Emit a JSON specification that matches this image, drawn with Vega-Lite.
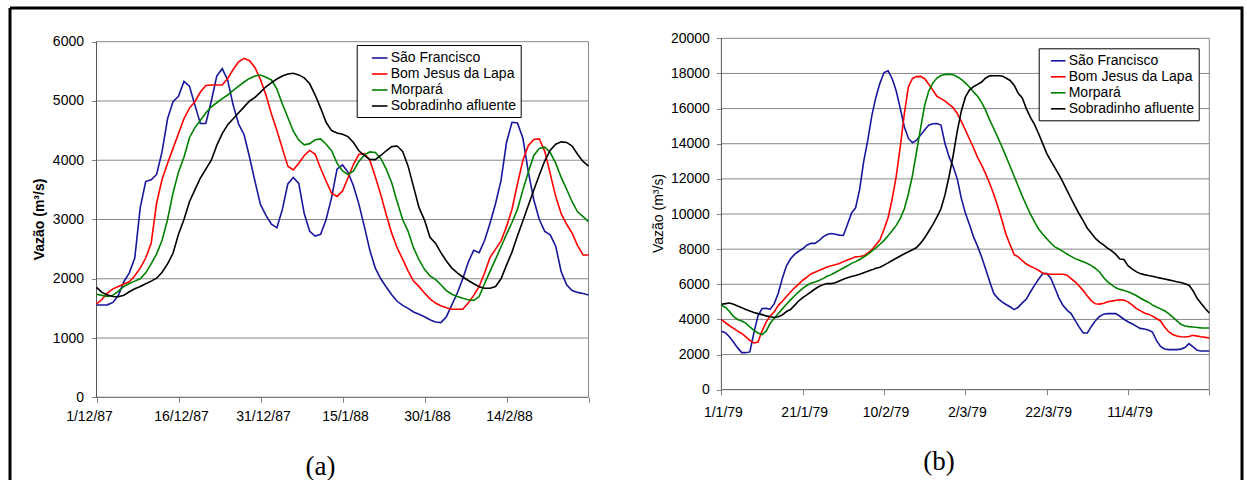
{
"$schema": "https://vega.github.io/schema/vega-lite/v6.json",
"width": 1232, "height": 472,
"autosize": {"type": "none"},
"padding": {"left": 10, "top": 8, "right": 5, "bottom": 0},
"background": "white",
"config": {
  "view": {"stroke": "black", "strokeWidth": 3, "strokeDash": [1704, 1232, 472, 0]},
  "font": "Liberation Sans",
  "axis": {"labelFont": "Liberation Sans", "labelColor": "black", "tickColor": "#808080", "domain": false, "grid": false, "labelFontSize": 14, "tickSize": 5, "titleColor": "black"},
  "legend": {"labelFont": "Liberation Sans", "labelFontSize": 14, "labelColor": "black", "strokeColor": "black", "fillColor": "white", "title": null, "symbolType": "stroke", "symbolStrokeWidth": 1.6, "labelOffset": 2, "rowPadding": 0}
},
"resolve": {"scale": {"x": "independent", "y": "independent", "color": "independent"}, "axis": {"x": "independent", "y": "independent"}, "legend": {"color": "independent"}},
"layer": [
{
 "data": {"values": [
{"t":"1987-12-01","sf":1558,"bj":1575,"mo":1738,"so":1856},
{"t":"1987-12-02","sf":1558,"bj":1650,"mo":1720,"so":1770},
{"t":"1987-12-03","sf":1560,"bj":1760,"mo":1700,"so":1725},
{"t":"1987-12-04","sf":1600,"bj":1830,"mo":1720,"so":1700},
{"t":"1987-12-05","sf":1720,"bj":1870,"mo":1790,"so":1697},
{"t":"1987-12-06","sf":1950,"bj":1910,"mo":1870,"so":1720},
{"t":"1987-12-07","sf":2100,"bj":1950,"mo":1920,"so":1780},
{"t":"1987-12-08","sf":2350,"bj":2050,"mo":1960,"so":1830},
{"t":"1987-12-09","sf":3200,"bj":2180,"mo":2000,"so":1870},
{"t":"1987-12-10","sf":3640,"bj":2350,"mo":2100,"so":1915},
{"t":"1987-12-11","sf":3670,"bj":2600,"mo":2250,"so":1960},
{"t":"1987-12-12","sf":3760,"bj":3280,"mo":2420,"so":2010},
{"t":"1987-12-13","sf":4150,"bj":3680,"mo":2650,"so":2110},
{"t":"1987-12-14","sf":4700,"bj":3950,"mo":3000,"so":2250},
{"t":"1987-12-15","sf":4990,"bj":4200,"mo":3450,"so":2430},
{"t":"1987-12-16","sf":5080,"bj":4450,"mo":3800,"so":2750},
{"t":"1987-12-17","sf":5330,"bj":4700,"mo":4050,"so":3000},
{"t":"1987-12-18","sf":5250,"bj":4880,"mo":4380,"so":3300},
{"t":"1987-12-19","sf":4930,"bj":4988,"mo":4550,"so":3500},
{"t":"1987-12-20","sf":4620,"bj":5150,"mo":4670,"so":3700},
{"t":"1987-12-21","sf":4620,"bj":5260,"mo":4800,"so":3850},
{"t":"1987-12-22","sf":5000,"bj":5270,"mo":4900,"so":4000},
{"t":"1987-12-23","sf":5420,"bj":5270,"mo":4970,"so":4250},
{"t":"1987-12-24","sf":5545,"bj":5270,"mo":5040,"so":4450},
{"t":"1987-12-25","sf":5350,"bj":5380,"mo":5100,"so":4600},
{"t":"1987-12-26","sf":4930,"bj":5530,"mo":5180,"so":4700},
{"t":"1987-12-27","sf":4610,"bj":5660,"mo":5250,"so":4800},
{"t":"1987-12-28","sf":4430,"bj":5720,"mo":5320,"so":4900},
{"t":"1987-12-29","sf":4050,"bj":5680,"mo":5380,"so":5000},
{"t":"1987-12-30","sf":3640,"bj":5560,"mo":5420,"so":5060},
{"t":"1987-12-31","sf":3250,"bj":5360,"mo":5438,"so":5150},
{"t":"1988-01-01","sf":3070,"bj":5100,"mo":5400,"so":5240},
{"t":"1988-01-02","sf":2920,"bj":4780,"mo":5354,"so":5310},
{"t":"1988-01-03","sf":2860,"bj":4500,"mo":5200,"so":5370},
{"t":"1988-01-04","sf":3170,"bj":4200,"mo":4950,"so":5420},
{"t":"1988-01-05","sf":3600,"bj":3900,"mo":4720,"so":5455},
{"t":"1988-01-06","sf":3710,"bj":3836,"mo":4490,"so":5467},
{"t":"1988-01-07","sf":3610,"bj":3950,"mo":4340,"so":5440},
{"t":"1988-01-08","sf":3100,"bj":4080,"mo":4260,"so":5390},
{"t":"1988-01-09","sf":2800,"bj":4165,"mo":4280,"so":5290},
{"t":"1988-01-10","sf":2720,"bj":4100,"mo":4345,"so":5100},
{"t":"1988-01-11","sf":2750,"bj":3860,"mo":4360,"so":4880},
{"t":"1988-01-12","sf":3000,"bj":3650,"mo":4270,"so":4640},
{"t":"1988-01-13","sf":3370,"bj":3442,"mo":4160,"so":4500},
{"t":"1988-01-14","sf":3850,"bj":3390,"mo":3950,"so":4460},
{"t":"1988-01-15","sf":3920,"bj":3480,"mo":3820,"so":4440},
{"t":"1988-01-16","sf":3800,"bj":3700,"mo":3760,"so":4398},
{"t":"1988-01-17","sf":3570,"bj":3930,"mo":3820,"so":4300},
{"t":"1988-01-18","sf":3260,"bj":4100,"mo":3980,"so":4160},
{"t":"1988-01-19","sf":2880,"bj":4110,"mo":4090,"so":4080},
{"t":"1988-01-20","sf":2480,"bj":4000,"mo":4140,"so":4015},
{"t":"1988-01-21","sf":2180,"bj":3720,"mo":4130,"so":4010},
{"t":"1988-01-22","sf":2000,"bj":3420,"mo":4030,"so":4080},
{"t":"1988-01-23","sf":1860,"bj":3080,"mo":3850,"so":4160},
{"t":"1988-01-24","sf":1730,"bj":2770,"mo":3620,"so":4230},
{"t":"1988-01-25","sf":1620,"bj":2520,"mo":3300,"so":4240},
{"t":"1988-01-26","sf":1550,"bj":2330,"mo":3000,"so":4150},
{"t":"1988-01-27","sf":1500,"bj":2130,"mo":2800,"so":3900},
{"t":"1988-01-28","sf":1440,"bj":1960,"mo":2520,"so":3550},
{"t":"1988-01-29","sf":1400,"bj":1867,"mo":2317,"so":3200},
{"t":"1988-01-30","sf":1360,"bj":1760,"mo":2160,"so":2990},
{"t":"1988-01-31","sf":1310,"bj":1660,"mo":2050,"so":2700},
{"t":"1988-02-01","sf":1270,"bj":1590,"mo":1990,"so":2600},
{"t":"1988-02-02","sf":1260,"bj":1545,"mo":1900,"so":2440},
{"t":"1988-02-03","sf":1360,"bj":1510,"mo":1800,"so":2300},
{"t":"1988-02-04","sf":1560,"bj":1485,"mo":1740,"so":2180},
{"t":"1988-02-05","sf":1760,"bj":1485,"mo":1700,"so":2100},
{"t":"1988-02-06","sf":2000,"bj":1485,"mo":1670,"so":2030},
{"t":"1988-02-07","sf":2280,"bj":1590,"mo":1645,"so":1970},
{"t":"1988-02-08","sf":2480,"bj":1720,"mo":1635,"so":1915},
{"t":"1988-02-09","sf":2440,"bj":1870,"mo":1700,"so":1865},
{"t":"1988-02-10","sf":2650,"bj":2100,"mo":1920,"so":1839},
{"t":"1988-02-11","sf":2940,"bj":2360,"mo":2130,"so":1839},
{"t":"1988-02-12","sf":3270,"bj":2500,"mo":2330,"so":1870},
{"t":"1988-02-13","sf":3660,"bj":2640,"mo":2540,"so":2000},
{"t":"1988-02-14","sf":4300,"bj":2880,"mo":2750,"so":2230},
{"t":"1988-02-15","sf":4640,"bj":3170,"mo":2950,"so":2450},
{"t":"1988-02-16","sf":4630,"bj":3600,"mo":3170,"so":2720},
{"t":"1988-02-17","sf":4370,"bj":4000,"mo":3500,"so":2980},
{"t":"1988-02-18","sf":3800,"bj":4250,"mo":3800,"so":3240},
{"t":"1988-02-19","sf":3330,"bj":4350,"mo":4080,"so":3498},
{"t":"1988-02-20","sf":3000,"bj":4360,"mo":4200,"so":3750},
{"t":"1988-02-21","sf":2800,"bj":4150,"mo":4220,"so":3990},
{"t":"1988-02-22","sf":2740,"bj":3770,"mo":4130,"so":4170},
{"t":"1988-02-23","sf":2550,"bj":3390,"mo":3950,"so":4270},
{"t":"1988-02-24","sf":2120,"bj":3100,"mo":3710,"so":4310},
{"t":"1988-02-25","sf":1900,"bj":2920,"mo":3510,"so":4300},
{"t":"1988-02-26","sf":1800,"bj":2770,"mo":3300,"so":4240},
{"t":"1988-02-27","sf":1770,"bj":2560,"mo":3130,"so":4100},
{"t":"1988-02-28","sf":1750,"bj":2401,"mo":3048,"so":3980},
{"t":"1988-02-29","sf":1727,"bj":2401,"mo":2964,"so":3900}
 ]},
 "layer": [
  {
   "data": {"values": [{"v":1000},{"v":2000},{"v":3000},{"v":4000},{"v":5000},{"v":6000}]},
   "mark": {"type": "rule", "color": "#888888", "strokeWidth": 1},
   "encoding": {
     "x": {"datum": {"year":1987,"month":12,"date":1,"utc":true}, "type": "temporal", "scale": {"type": "utc", "domain": [563948092800, 583419456000], "nice": false}},
     "x2": {"datum": {"year":1988,"month":2,"date":29,"utc":true}},
     "y": {"field": "v", "type": "quantitative", "scale": {"domain": [-1395.4, 6568.6], "nice": false, "zero": false}}
   }
  },
  {
   "data": {"values": [{}]},
   "mark": {"type": "rule", "color": "#888888", "strokeWidth": 1},
   "encoding": {
     "x": {"datum": {"year":1988,"month":2,"date":29,"utc":true}, "type": "temporal", "scale": {"type": "utc", "domain": [563948092800, 583419456000], "nice": false}},
     "y": {"datum": 0, "type": "quantitative", "scale": {"domain": [-1395.4, 6568.6], "nice": false, "zero": false}},
     "y2": {"datum": 6000}
   }
  },
  {
   "data": {"values": [{}]},
   "mark": {"type": "rule", "color": "#555555", "strokeWidth": 1},
   "encoding": {
     "x": {"datum": {"year":1987,"month":12,"date":1,"utc":true}, "type": "temporal", "scale": {"type": "utc", "domain": [563948092800, 583419456000], "nice": false}},
     "y": {"datum": 0, "type": "quantitative", "scale": {"domain": [-1395.4, 6568.6], "nice": false, "zero": false}},
     "y2": {"datum": 6000}
   }
  },
  {
   "data": {"values": [{}]},
   "mark": {"type": "rule", "color": "#555555", "strokeWidth": 1},
   "encoding": {
     "x": {"datum": {"year":1987,"month":12,"date":1,"utc":true}, "type": "temporal", "scale": {"type": "utc", "domain": [563948092800, 583419456000], "nice": false}},
     "x2": {"datum": {"year":1988,"month":2,"date":29,"utc":true}},
     "y": {"datum": 0, "type": "quantitative", "scale": {"domain": [-1395.4, 6568.6], "nice": false, "zero": false}}
   }
  },
  {
   "transform": [{"fold": ["sf","bj","mo","so"], "as": ["key","value"]}],
   "mark": {"type": "line", "strokeWidth": 1.6},
   "encoding": {
     "x": {"field": "t", "type": "temporal", "scale": {"type": "utc", "domain": [563948092800, 583419456000], "nice": false},
           "axis": {"orient": "bottom", "offset": -82.7, "values": [565315200000,566611200000,567907200000,569203200000,570499200000,571795200000,573091200000],
                    "labelExpr": "datum.value > 572500000000 ? '' : utcFormat(datum.value, '%-d/%-m/%y')",
                    "labelOffset": {"condition": {"test": "datum.value < 566000000000", "value": -7.5}, "value": 2.5},
                    "labelPadding": 7, "labelFontSize": 14, "tickSize": 5,
                    "title": "(a)", "titleFont": "Liberation Serif", "titleFontSize": 27, "titleFontWeight": "normal",
                    "titleX": 310, "titleY": 68.7, "titleBaseline": "middle", "titleAlign": "center"}},
     "y": {"field": "value", "type": "quantitative", "scale": {"domain": [-1395.4, 6568.6], "nice": false, "zero": false},
           "axis": {"orient": "left", "offset": -86.5, "values": [0,1000,2000,3000,4000,5000,6000], "format": "d",
                    "labelPadding": 8, "labelFontSize": 14, "tickSize": 5,
                    "title": "Vazão (m³/s)", "titleFont": "Liberation Sans", "titleFontSize": 14, "titleFontWeight": "bold",
                    "titleX": -57, "titleY": 211, "titleAngle": 270, "titleBaseline": "middle", "titleAlign": "center"}},
     "color": {"field": "key", "type": "nominal",
               "scale": {"domain": ["sf","bj","mo","so"], "range": ["#17179b","#ff0000","#008000","#000000"]},
               "legend": {"orient": "none", "legendX": 346.7, "legendY": 37, "padding": 4, "symbolOffset": 10, "symbolSize": 243, "rowPadding": 0,
                          "labelExpr": "datum.label == 'sf' ? 'São Francisco' : datum.label == 'bj' ? 'Bom Jesus da Lapa' : datum.label == 'mo' ? 'Morpará' : 'Sobradinho afluente'"}}
   }
  }
 ]
},
{
 "data": {"values": [
{"t":"1979-01-01","sf":3323,"bj":3988,"mo":4804,"so":4861},
{"t":"1979-01-02","sf":3240,"bj":3810,"mo":4680,"so":4900},
{"t":"1979-01-03","sf":3000,"bj":3640,"mo":4450,"so":4937},
{"t":"1979-01-04","sf":2700,"bj":3490,"mo":4160,"so":4860},
{"t":"1979-01-05","sf":2380,"bj":3330,"mo":4000,"so":4760},
{"t":"1979-01-06","sf":2110,"bj":3200,"mo":3910,"so":4670},
{"t":"1979-01-07","sf":2108,"bj":3010,"mo":3790,"so":4560},
{"t":"1979-01-08","sf":2150,"bj":2810,"mo":3570,"so":4481},
{"t":"1979-01-09","sf":3250,"bj":2660,"mo":3380,"so":4400},
{"t":"1979-01-10","sf":4200,"bj":2716,"mo":3230,"so":4330},
{"t":"1979-01-11","sf":4620,"bj":3350,"mo":3133,"so":4273},
{"t":"1979-01-12","sf":4630,"bj":3850,"mo":3330,"so":4200},
{"t":"1979-01-13","sf":4580,"bj":4200,"mo":3780,"so":4150},
{"t":"1979-01-14","sf":4900,"bj":4440,"mo":4070,"so":4110},
{"t":"1979-01-15","sf":5500,"bj":4800,"mo":4340,"so":4150},
{"t":"1979-01-16","sf":6350,"bj":5030,"mo":4600,"so":4260},
{"t":"1979-01-17","sf":7050,"bj":5300,"mo":4860,"so":4450},
{"t":"1979-01-18","sf":7450,"bj":5560,"mo":5110,"so":4560},
{"t":"1979-01-19","sf":7700,"bj":5800,"mo":5350,"so":4800},
{"t":"1979-01-20","sf":7880,"bj":6010,"mo":5570,"so":5050},
{"t":"1979-01-21","sf":8020,"bj":6230,"mo":5770,"so":5240},
{"t":"1979-01-22","sf":8222,"bj":6400,"mo":5930,"so":5400},
{"t":"1979-01-23","sf":8330,"bj":6590,"mo":6060,"so":5560},
{"t":"1979-01-24","sf":8330,"bj":6690,"mo":6130,"so":5730},
{"t":"1979-01-25","sf":8480,"bj":6780,"mo":6210,"so":5870},
{"t":"1979-01-26","sf":8700,"bj":6880,"mo":6320,"so":5980},
{"t":"1979-01-27","sf":8830,"bj":6988,"mo":6456,"so":6039},
{"t":"1979-01-28","sf":8887,"bj":7050,"mo":6550,"so":6039},
{"t":"1979-01-29","sf":8850,"bj":7110,"mo":6670,"so":6090},
{"t":"1979-01-30","sf":8800,"bj":7178,"mo":6798,"so":6191},
{"t":"1979-01-31","sf":8780,"bj":7290,"mo":6930,"so":6290},
{"t":"1979-02-01","sf":9400,"bj":7380,"mo":7050,"so":6370},
{"t":"1979-02-02","sf":10050,"bj":7470,"mo":7190,"so":6440},
{"t":"1979-02-03","sf":10350,"bj":7560,"mo":7290,"so":6500},
{"t":"1979-02-04","sf":11400,"bj":7580,"mo":7410,"so":6570},
{"t":"1979-02-05","sf":13000,"bj":7620,"mo":7550,"so":6660},
{"t":"1979-02-06","sf":14200,"bj":7780,"mo":7700,"so":6740},
{"t":"1979-02-07","sf":15600,"bj":7970,"mo":7880,"so":6820},
{"t":"1979-02-08","sf":16650,"bj":8250,"mo":8070,"so":6910},
{"t":"1979-02-09","sf":17450,"bj":8530,"mo":8280,"so":6970},
{"t":"1979-02-10","sf":18050,"bj":9130,"mo":8500,"so":7090},
{"t":"1979-02-11","sf":18150,"bj":9800,"mo":8760,"so":7220},
{"t":"1979-02-12","sf":17700,"bj":10850,"mo":9050,"so":7350},
{"t":"1979-02-13","sf":17000,"bj":12150,"mo":9350,"so":7480},
{"t":"1979-02-14","sf":16000,"bj":13830,"mo":9750,"so":7610},
{"t":"1979-02-15","sf":14950,"bj":15720,"mo":10300,"so":7740},
{"t":"1979-02-16","sf":14300,"bj":17243,"mo":11150,"so":7850},
{"t":"1979-02-17","sf":14053,"bj":17718,"mo":12200,"so":7970},
{"t":"1979-02-18","sf":14200,"bj":17820,"mo":13550,"so":8090},
{"t":"1979-02-19","sf":14489,"bj":17830,"mo":14900,"so":8340},
{"t":"1979-02-20","sf":14800,"bj":17700,"mo":16200,"so":8650},
{"t":"1979-02-21","sf":15050,"bj":17390,"mo":17000,"so":9020},
{"t":"1979-02-22","sf":15140,"bj":17050,"mo":17450,"so":9400},
{"t":"1979-02-23","sf":15150,"bj":16700,"mo":17740,"so":9820},
{"t":"1979-02-24","sf":15060,"bj":16570,"mo":17880,"so":10300},
{"t":"1979-02-25","sf":14000,"bj":16420,"mo":17940,"so":11100},
{"t":"1979-02-26","sf":13250,"bj":16240,"mo":17960,"so":12150},
{"t":"1979-02-27","sf":12700,"bj":16060,"mo":17930,"so":13330},
{"t":"1979-02-28","sf":12000,"bj":15720,"mo":17810,"so":14700},
{"t":"1979-03-01","sf":10900,"bj":15270,"mo":17660,"so":15850},
{"t":"1979-03-02","sf":10050,"bj":14780,"mo":17460,"so":16650},
{"t":"1979-03-03","sf":9400,"bj":14280,"mo":17230,"so":17050},
{"t":"1979-03-04","sf":8700,"bj":13770,"mo":16950,"so":17243},
{"t":"1979-03-05","sf":8170,"bj":13220,"mo":16700,"so":17380},
{"t":"1979-03-06","sf":7550,"bj":12780,"mo":16350,"so":17510},
{"t":"1979-03-07","sf":6850,"bj":12280,"mo":15900,"so":17740},
{"t":"1979-03-08","sf":6150,"bj":11736,"mo":15344,"so":17860},
{"t":"1979-03-09","sf":5469,"bj":11110,"mo":14850,"so":17870},
{"t":"1979-03-10","sf":5200,"bj":10410,"mo":14350,"so":17870},
{"t":"1979-03-11","sf":5000,"bj":9647,"mo":13825,"so":17850},
{"t":"1979-03-12","sf":4850,"bj":8840,"mo":13280,"so":17740},
{"t":"1979-03-13","sf":4720,"bj":8250,"mo":12720,"so":17600},
{"t":"1979-03-14","sf":4560,"bj":7690,"mo":12150,"so":17330},
{"t":"1979-03-15","sf":4690,"bj":7560,"mo":11580,"so":16870},
{"t":"1979-03-16","sf":4940,"bj":7340,"mo":11020,"so":16600},
{"t":"1979-03-17","sf":5160,"bj":7150,"mo":10500,"so":16000},
{"t":"1979-03-18","sf":5560,"bj":7030,"mo":9990,"so":15500},
{"t":"1979-03-19","sf":5940,"bj":6920,"mo":9570,"so":15100},
{"t":"1979-03-20","sf":6290,"bj":6800,"mo":9140,"so":14580},
{"t":"1979-03-21","sf":6600,"bj":6640,"mo":8860,"so":14020},
{"t":"1979-03-22","sf":6620,"bj":6590,"mo":8600,"so":13450},
{"t":"1979-03-23","sf":6350,"bj":6570,"mo":8350,"so":13040},
{"t":"1979-03-24","sf":5800,"bj":6570,"mo":8130,"so":12640},
{"t":"1979-03-25","sf":5230,"bj":6570,"mo":8010,"so":12250},
{"t":"1979-03-26","sf":4800,"bj":6570,"mo":7870,"so":11820},
{"t":"1979-03-27","sf":4530,"bj":6520,"mo":7720,"so":11350},
{"t":"1979-03-28","sf":4330,"bj":6324,"mo":7590,"so":10881},
{"t":"1979-03-29","sf":3950,"bj":6140,"mo":7460,"so":10430},
{"t":"1979-03-30","sf":3560,"bj":5900,"mo":7370,"so":10000},
{"t":"1979-03-31","sf":3228,"bj":5640,"mo":7280,"so":9609},
{"t":"1979-04-01","sf":3228,"bj":5330,"mo":7180,"so":9190},
{"t":"1979-04-02","sf":3600,"bj":5060,"mo":7060,"so":8900},
{"t":"1979-04-03","sf":3930,"bj":4890,"mo":6900,"so":8610},
{"t":"1979-04-04","sf":4170,"bj":4870,"mo":6700,"so":8400},
{"t":"1979-04-05","sf":4300,"bj":4920,"mo":6390,"so":8240},
{"t":"1979-04-06","sf":4330,"bj":5010,"mo":6140,"so":8050},
{"t":"1979-04-07","sf":4330,"bj":5040,"mo":5970,"so":7900},
{"t":"1979-04-08","sf":4330,"bj":5090,"mo":5800,"so":7700},
{"t":"1979-04-09","sf":4180,"bj":5120,"mo":5710,"so":7440},
{"t":"1979-04-10","sf":4010,"bj":5100,"mo":5650,"so":7410},
{"t":"1979-04-11","sf":3870,"bj":5000,"mo":5580,"so":7060},
{"t":"1979-04-12","sf":3750,"bj":4830,"mo":5480,"so":6880},
{"t":"1979-04-13","sf":3620,"bj":4630,"mo":5360,"so":6720},
{"t":"1979-04-14","sf":3490,"bj":4500,"mo":5220,"so":6608},
{"t":"1979-04-15","sf":3450,"bj":4370,"mo":5090,"so":6550},
{"t":"1979-04-16","sf":3400,"bj":4300,"mo":4980,"so":6500},
{"t":"1979-04-17","sf":3285,"bj":4190,"mo":4830,"so":6456},
{"t":"1979-04-18","sf":2810,"bj":4050,"mo":4709,"so":6400},
{"t":"1979-04-19","sf":2460,"bj":3912,"mo":4600,"so":6350},
{"t":"1979-04-20","sf":2320,"bj":3570,"mo":4490,"so":6305},
{"t":"1979-04-21","sf":2279,"bj":3300,"mo":4330,"so":6250},
{"t":"1979-04-22","sf":2279,"bj":3140,"mo":4130,"so":6200},
{"t":"1979-04-23","sf":2279,"bj":3060,"mo":3930,"so":6140},
{"t":"1979-04-24","sf":2310,"bj":3010,"mo":3720,"so":6100},
{"t":"1979-04-25","sf":2400,"bj":3000,"mo":3630,"so":6030},
{"t":"1979-04-26","sf":2621,"bj":3030,"mo":3590,"so":5950},
{"t":"1979-04-27","sf":2431,"bj":3095,"mo":3565,"so":5630},
{"t":"1979-04-28","sf":2250,"bj":3050,"mo":3540,"so":5200},
{"t":"1979-04-29","sf":2203,"bj":3010,"mo":3520,"so":4900},
{"t":"1979-04-30","sf":2203,"bj":2980,"mo":3513,"so":4620},
{"t":"1979-05-01","sf":2203,"bj":2943,"mo":3513,"so":4368}
 ]},
 "layer": [
  {
   "data": {"values": [{"v":2000},{"v":4000},{"v":6000},{"v":8000},{"v":10000},{"v":12000},{"v":14000},{"v":16000},{"v":18000},{"v":20000}]},
   "mark": {"type": "rule", "color": "#888888", "strokeWidth": 1},
   "encoding": {
     "x": {"datum": {"year":1979,"month":1,"date":1,"utc":true}, "type": "temporal", "scale": {"type": "utc", "domain": [268879392000, 295059456000], "nice": false}},
     "x2": {"datum": {"year":1979,"month":5,"date":1,"utc":true}},
     "y": {"field": "v", "type": "quantitative", "scale": {"domain": [-5139.4, 21724.5], "nice": false, "zero": false}}
   }
  },
  {
   "data": {"values": [{}]},
   "mark": {"type": "rule", "color": "#888888", "strokeWidth": 1},
   "encoding": {
     "x": {"datum": {"year":1979,"month":5,"date":1,"utc":true}, "type": "temporal", "scale": {"type": "utc", "domain": [268879392000, 295059456000], "nice": false}},
     "y": {"datum": 0, "type": "quantitative", "scale": {"domain": [-5139.4, 21724.5], "nice": false, "zero": false}},
     "y2": {"datum": 20000}
   }
  },
  {
   "data": {"values": [{}]},
   "mark": {"type": "rule", "color": "#555555", "strokeWidth": 1},
   "encoding": {
     "x": {"datum": {"year":1979,"month":1,"date":1,"utc":true}, "type": "temporal", "scale": {"type": "utc", "domain": [268879392000, 295059456000], "nice": false}},
     "y": {"datum": 0, "type": "quantitative", "scale": {"domain": [-5139.4, 21724.5], "nice": false, "zero": false}},
     "y2": {"datum": 20000}
   }
  },
  {
   "data": {"values": [{}]},
   "mark": {"type": "rule", "color": "#555555", "strokeWidth": 1},
   "encoding": {
     "x": {"datum": {"year":1979,"month":1,"date":1,"utc":true}, "type": "temporal", "scale": {"type": "utc", "domain": [268879392000, 295059456000], "nice": false}},
     "x2": {"datum": {"year":1979,"month":5,"date":1,"utc":true}},
     "y": {"datum": 0, "type": "quantitative", "scale": {"domain": [-5139.4, 21724.5], "nice": false, "zero": false}}
   }
  },
  {
   "transform": [{"fold": ["sf","bj","mo","so"], "as": ["key","value"]}],
   "mark": {"type": "line", "strokeWidth": 1.6},
   "encoding": {
     "x": {"field": "t", "type": "temporal", "scale": {"type": "utc", "domain": [268879392000, 295059456000], "nice": false},
           "axis": {"orient": "bottom", "offset": -90.3, "values": [283996800000,285724800000,287452800000,289180800000,290908800000,292636800000,294364800000],
                    "labelExpr": "datum.value > 294000000000 ? '' : utcFormat(datum.value, '%-d/%-m/%y')",
                    "labelOffset": 1.5,
                    "labelPadding": 10.5, "labelFontSize": 14, "tickSize": 5,
                    "title": "(b)", "titleFont": "Liberation Serif", "titleFontSize": 27, "titleFontWeight": "normal",
                    "titleX": 928.4, "titleY": 71.3, "titleBaseline": "middle", "titleAlign": "center"}},
     "y": {"field": "value", "type": "quantitative", "scale": {"domain": [-5139.4, 21724.5], "nice": false, "zero": false},
           "axis": {"orient": "left", "offset": -711.4, "values": [0,2000,4000,6000,8000,10000,12000,14000,16000,18000,20000], "format": "d",
                    "labelPadding": 7, "labelFontSize": 14, "tickSize": 5,
                    "title": "Vazão (m³/s)", "titleFont": "Liberation Sans", "titleFontSize": 14, "titleFontWeight": "normal",
                    "titleX": -62.7, "titleY": 205, "titleAngle": 270, "titleBaseline": "middle", "titleAlign": "center"}},
     "color": {"field": "key", "type": "nominal",
               "scale": {"domain": ["sf","bj","mo","so"], "range": ["#17179b","#ff0000","#008000","#000000"]},
               "legend": {"orient": "none", "legendX": 1028.7, "legendY": 40.3, "padding": 4, "symbolOffset": 7, "symbolSize": 213, "rowPadding": 0,
                          "labelExpr": "datum.label == 'sf' ? 'São Francisco' : datum.label == 'bj' ? 'Bom Jesus da Lapa' : datum.label == 'mo' ? 'Morpará' : 'Sobradinho afluente'"}}
   }
  }
 ]
}
]
}
